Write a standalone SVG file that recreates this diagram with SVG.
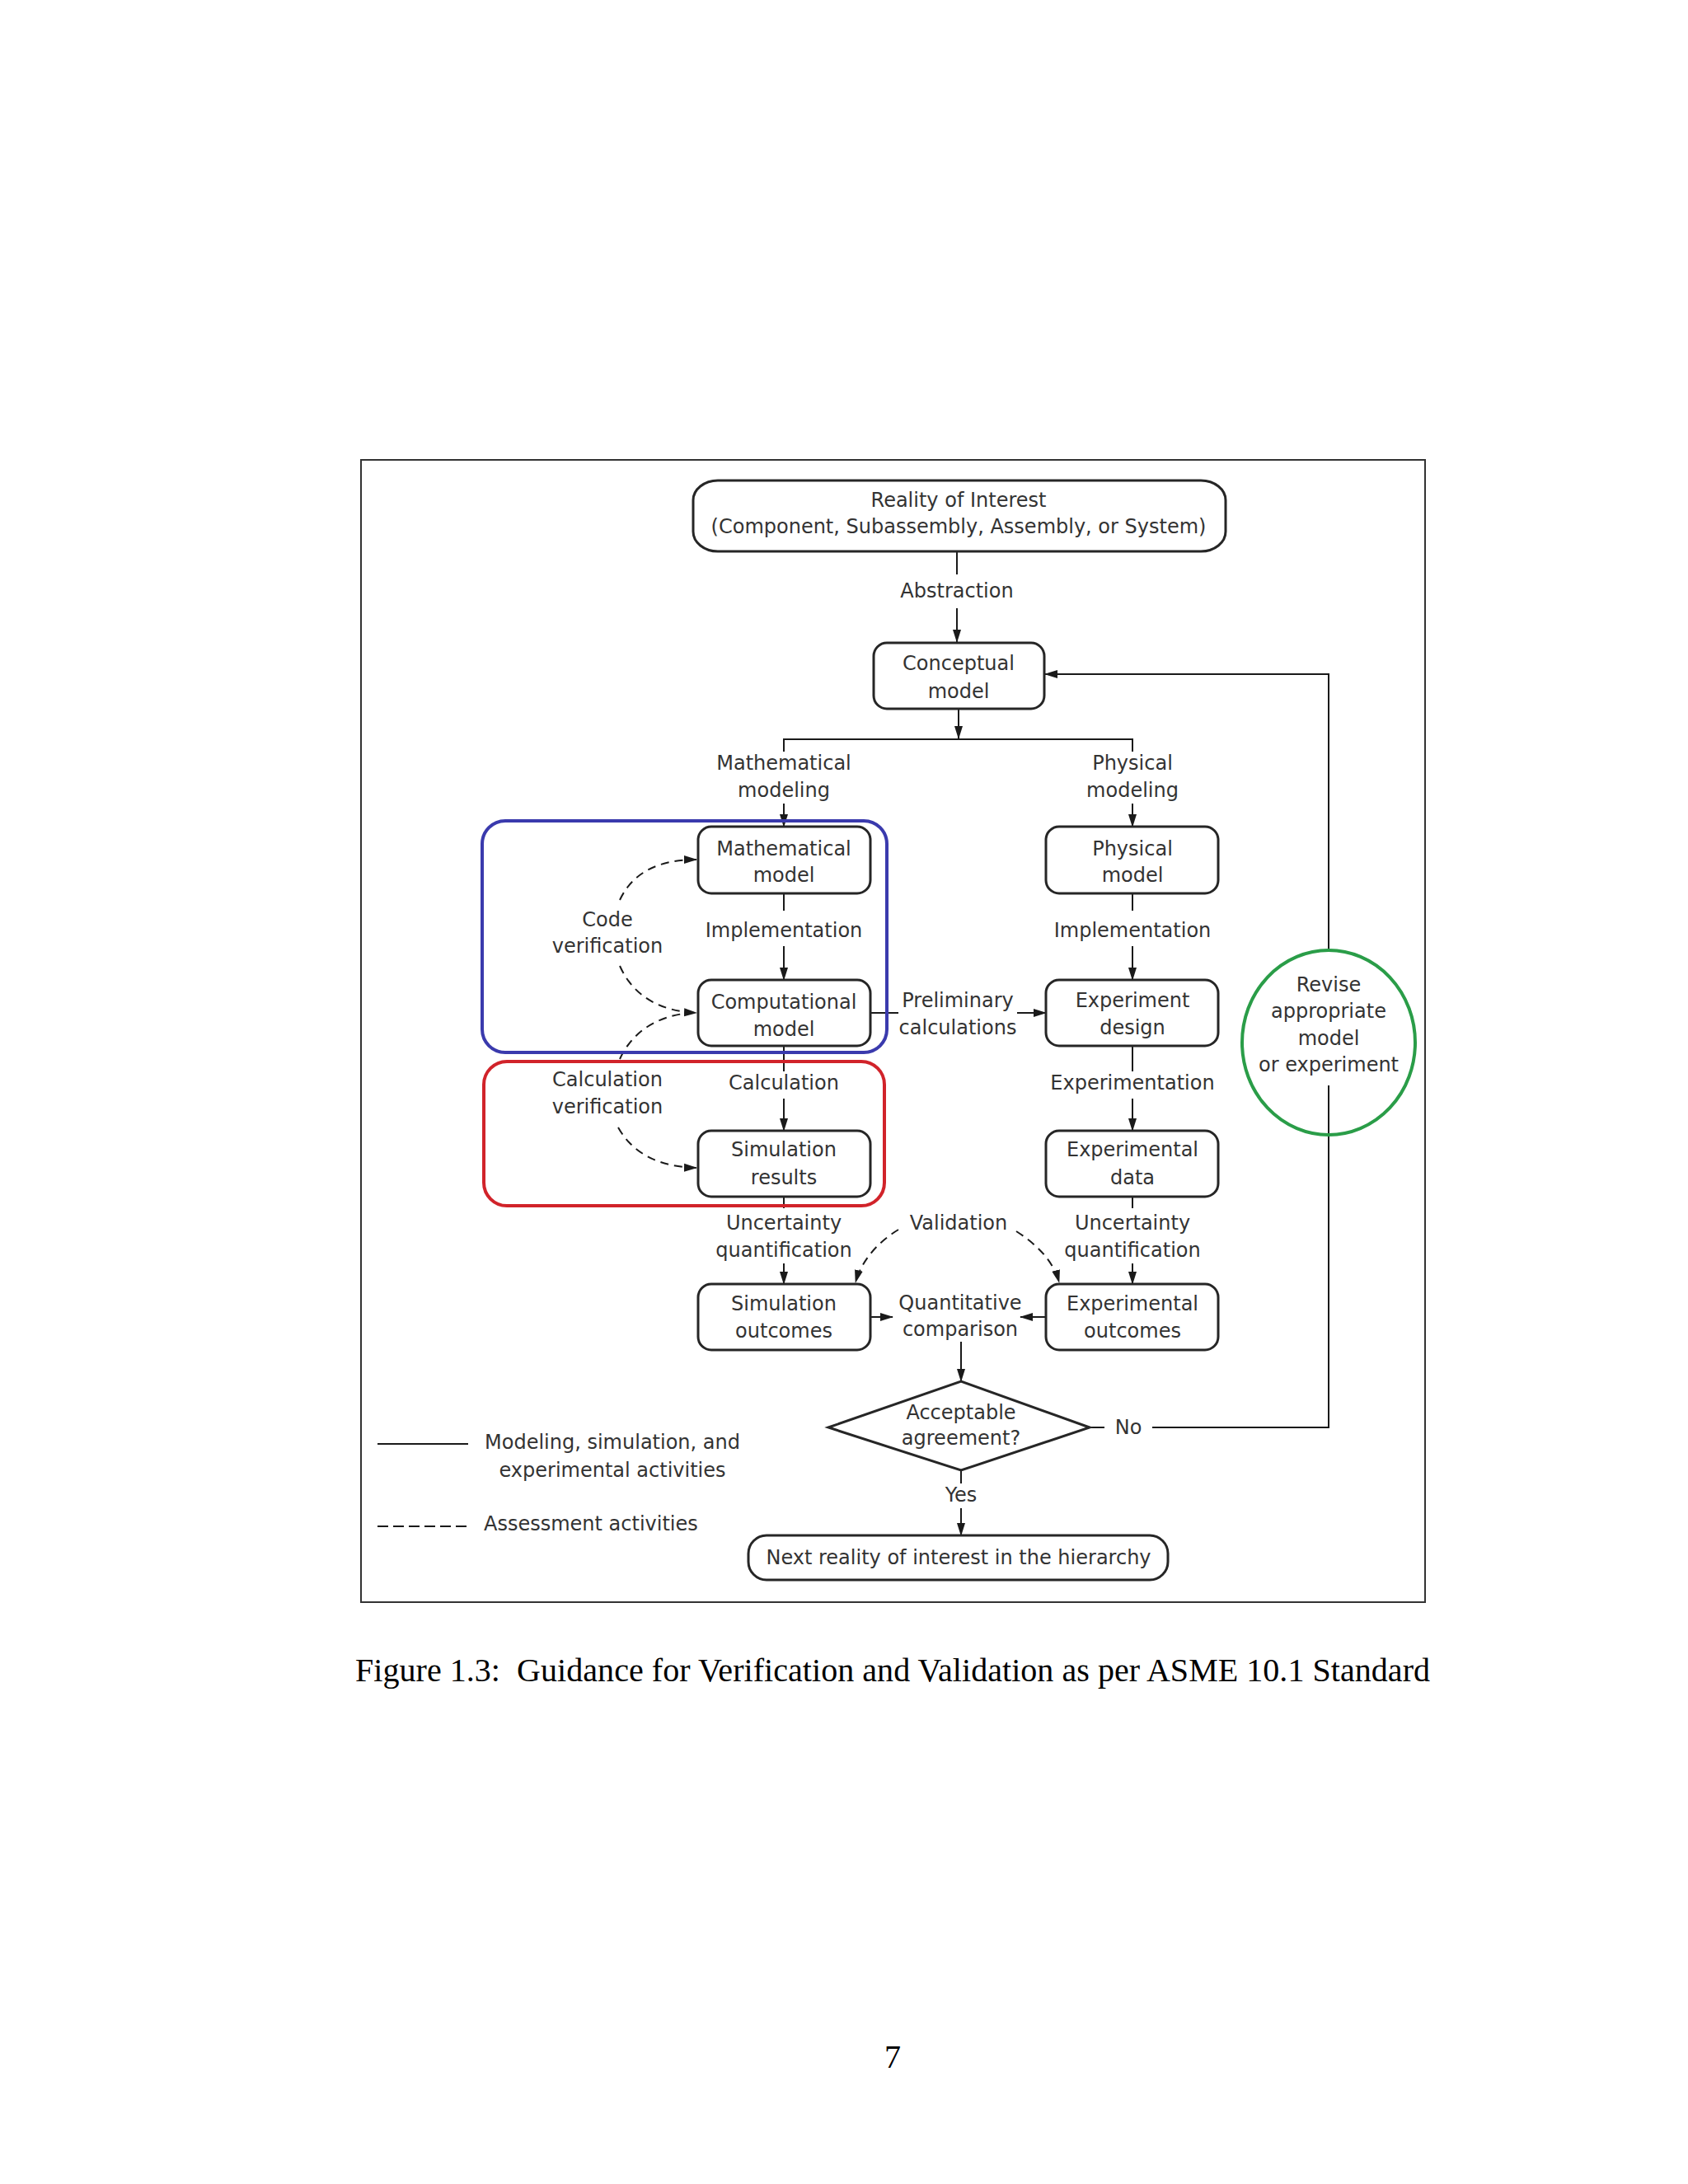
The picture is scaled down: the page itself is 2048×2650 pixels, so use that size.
<svg xmlns="http://www.w3.org/2000/svg" width="2048" height="2650" viewBox="0 0 2048 2650">
<defs>
<style>
.t{font-family:"DejaVu Sans","Liberation Sans",sans-serif;font-size:24px;fill:#333;text-anchor:middle}
.ts{font-family:"DejaVu Sans","Liberation Sans",sans-serif;font-size:24px;fill:#333}
.cap{font-family:"Liberation Serif","Times New Roman",serif;font-size:40px;fill:#000}
.box{fill:#fff;stroke:#262626;stroke-width:3}
.ln{fill:none;stroke:#1a1a1a;stroke-width:2}
.da{fill:none;stroke:#1a1a1a;stroke-width:2;stroke-dasharray:10 7}
</style>
<marker id="ah" markerWidth="16" markerHeight="12" refX="15" refY="6" orient="auto" markerUnits="userSpaceOnUse">
<path d="M0,1 L16,6 L0,11 z" fill="#1a1a1a"/>
</marker>
</defs>
<rect width="2048" height="2650" fill="#fff"/>
<rect x="438" y="558" width="1291" height="1386" fill="none" stroke="#333" stroke-width="2"/>

<g id="connectors">
<line class="ln" x1="1161" y1="669" x2="1161" y2="697"/>
<line class="ln" x1="1161" y1="738" x2="1161" y2="779" marker-end="url(#ah)"/>
<line class="ln" x1="1163" y1="860" x2="1163" y2="896" marker-end="url(#ah)"/>
<polyline class="ln" points="951,912 951,897 1374,897 1374,912"/>
<line class="ln" x1="951" y1="975" x2="951" y2="1003" marker-end="url(#ah)"/>
<line class="ln" x1="1374" y1="975" x2="1374" y2="1003" marker-end="url(#ah)"/>
<line class="ln" x1="951" y1="1084" x2="951" y2="1105"/>
<line class="ln" x1="951" y1="1148" x2="951" y2="1189" marker-end="url(#ah)"/>
<line class="ln" x1="1374" y1="1084" x2="1374" y2="1105"/>
<line class="ln" x1="1374" y1="1148" x2="1374" y2="1189" marker-end="url(#ah)"/>
<line class="ln" x1="1056" y1="1229" x2="1090" y2="1229"/>
<line class="ln" x1="1234" y1="1229" x2="1269" y2="1229" marker-end="url(#ah)"/>
<line class="ln" x1="951" y1="1269" x2="951" y2="1300"/>
<line class="ln" x1="951" y1="1333" x2="951" y2="1372" marker-end="url(#ah)"/>
<line class="ln" x1="1374" y1="1269" x2="1374" y2="1300"/>
<line class="ln" x1="1374" y1="1333" x2="1374" y2="1372" marker-end="url(#ah)"/>
<line class="ln" x1="951" y1="1452" x2="951" y2="1466"/>
<line class="ln" x1="951" y1="1533" x2="951" y2="1558" marker-end="url(#ah)"/>
<line class="ln" x1="1374" y1="1452" x2="1374" y2="1466"/>
<line class="ln" x1="1374" y1="1533" x2="1374" y2="1558" marker-end="url(#ah)"/>
<line class="ln" x1="1056" y1="1598" x2="1083" y2="1598" marker-end="url(#ah)"/>
<line class="ln" x1="1269" y1="1598" x2="1238" y2="1598" marker-end="url(#ah)"/>
<line class="ln" x1="1166" y1="1628" x2="1166" y2="1676" marker-end="url(#ah)"/>
<line class="ln" x1="1166" y1="1784" x2="1166" y2="1800"/>
<line class="ln" x1="1166" y1="1830" x2="1166" y2="1863" marker-end="url(#ah)"/>
<line class="ln" x1="1322" y1="1732" x2="1340" y2="1732"/>
<polyline class="ln" points="1398,1732 1612,1732 1612,1317"/>
<polyline class="ln" points="1612,1153 1612,818 1268,818" marker-end="url(#ah)"/>
<path class="da" d="M752,1092 C768,1058 800,1043 845,1043" marker-end="url(#ah)"/>
<path class="da" d="M752,1172 C768,1208 800,1227 845,1229" marker-end="url(#ah)"/>
<path class="da" d="M752,1285 C768,1250 800,1232 838,1229"/>
<path class="da" d="M750,1368 C768,1400 800,1416 845,1417" marker-end="url(#ah)"/>
<path class="da" d="M1090,1492 C1065,1507 1045,1530 1038,1556" marker-end="url(#ah)"/>
<path class="da" d="M1233,1494 C1258,1510 1278,1530 1285,1556" marker-end="url(#ah)"/>
</g>

<g id="reality"><rect class="box" x="841" y="583" width="646" height="86" rx="30" ry="24"/>
<text class="t" x="1163" y="615">Reality of Interest</text>
<text class="t" x="1163" y="647">(Component, Subassembly, Assembly, or System)</text></g>
<g id="abstraction"><text class="t" x="1161" y="725">Abstraction</text></g>
<g id="conceptual"><rect class="box" x="1060" y="780" width="207" height="80" rx="16"/>
<text class="t" x="1163" y="813">Conceptual</text><text class="t" x="1163" y="847">model</text></g>
<g id="mathmodeling"><text class="t" x="951" y="934">Mathematical</text><text class="t" x="951" y="967">modeling</text></g>
<g id="physmodeling"><text class="t" x="1374" y="934">Physical</text><text class="t" x="1374" y="967">modeling</text></g>
<g id="mathmodel"><rect class="box" x="847" y="1003" width="209" height="81" rx="16"/>
<text class="t" x="951" y="1038">Mathematical</text><text class="t" x="951" y="1070">model</text></g>
<g id="physmodel"><rect class="box" x="1269" y="1003" width="209" height="81" rx="16"/>
<text class="t" x="1374" y="1038">Physical</text><text class="t" x="1374" y="1070">model</text></g>
<g id="impl1"><text class="t" x="951" y="1137">Implementation</text></g>
<g id="impl2"><text class="t" x="1374" y="1137">Implementation</text></g>
<g id="codever"><text class="t" x="737" y="1124">Code</text><text class="t" x="737" y="1156">verification</text></g>
<g id="compmodel"><rect class="box" x="847" y="1189" width="209" height="80" rx="16"/>
<text class="t" x="951" y="1224">Computational</text><text class="t" x="951" y="1257">model</text></g>
<g id="expdesign"><rect class="box" x="1269" y="1189" width="209" height="80" rx="16"/>
<text class="t" x="1374" y="1222">Experiment</text><text class="t" x="1374" y="1255">design</text></g>
<g id="prelim"><text class="t" x="1162" y="1222">Preliminary</text><text class="t" x="1162" y="1255">calculations</text></g>
<g id="calcver"><text class="t" x="737" y="1318">Calculation</text><text class="t" x="737" y="1351">verification</text></g>
<g id="calc"><text class="t" x="951" y="1322">Calculation</text></g>
<g id="experimentation"><text class="t" x="1374" y="1322">Experimentation</text></g>
<g id="simresults"><rect class="box" x="847" y="1372" width="209" height="80" rx="16"/>
<text class="t" x="951" y="1403">Simulation</text><text class="t" x="951" y="1437">results</text></g>
<g id="expdata"><rect class="box" x="1269" y="1372" width="209" height="80" rx="16"/>
<text class="t" x="1374" y="1403">Experimental</text><text class="t" x="1374" y="1437">data</text></g>
<g id="uq1"><text class="t" x="951" y="1492">Uncertainty</text><text class="t" x="951" y="1525">quantification</text></g>
<g id="uq2"><text class="t" x="1374" y="1492">Uncertainty</text><text class="t" x="1374" y="1525">quantification</text></g>
<g id="validation"><text class="t" x="1163" y="1492">Validation</text></g>
<g id="simout"><rect class="box" x="847" y="1558" width="209" height="80" rx="16"/>
<text class="t" x="951" y="1590">Simulation</text><text class="t" x="951" y="1623">outcomes</text></g>
<g id="expout"><rect class="box" x="1269" y="1558" width="209" height="80" rx="16"/>
<text class="t" x="1374" y="1590">Experimental</text><text class="t" x="1374" y="1623">outcomes</text></g>
<g id="quant"><text class="t" x="1165" y="1589">Quantitative</text><text class="t" x="1165" y="1621">comparison</text></g>
<g id="decision"><polygon class="box" points="1005,1732 1166,1676 1322,1732 1166,1784"/>
<text class="t" x="1166" y="1722">Acceptable</text><text class="t" x="1166" y="1753">agreement?</text></g>
<g id="no"><text class="t" x="1369" y="1740">No</text></g>
<g id="yes"><text class="t" x="1166" y="1822">Yes</text></g>
<g id="next"><rect class="box" x="908" y="1863" width="509" height="54" rx="22"/>
<text class="t" x="1163" y="1898">Next reality of interest in the hierarchy</text></g>
<g id="revise"><ellipse cx="1612" cy="1265" rx="105" ry="112" fill="none" stroke="#2a9d48" stroke-width="4"/>
<text class="t" x="1612" y="1203">Revise</text><text class="t" x="1612" y="1235">appropriate</text>
<text class="t" x="1612" y="1268">model</text><text class="t" x="1612" y="1300">or experiment</text></g>
<g id="codegroup"><rect x="585" y="996" width="491" height="281" rx="28" fill="none" stroke="#3a3aad" stroke-width="4"/></g>
<g id="calcgroup"><rect x="587" y="1288" width="486" height="175" rx="28" fill="none" stroke="#d1232a" stroke-width="4"/></g>
<g id="legend">
<line class="ln" x1="458" y1="1752" x2="568" y2="1752"/>
<text class="t" x="743" y="1758">Modeling, simulation, and</text>
<text class="t" x="743" y="1792">experimental activities</text>
<line class="ln" x1="458" y1="1852" x2="568" y2="1852" stroke-dasharray="13 6"/>
<text class="ts" x="587" y="1857">Assessment activities</text>
</g>
<text class="cap" x="431" y="2040" textLength="1304" lengthAdjust="spacing" xml:space="preserve">Figure 1.3:  Guidance for Verification and Validation as per ASME 10.1 Standard</text>
<text class="cap" x="1083" y="2509" text-anchor="middle">7</text>
</svg>
